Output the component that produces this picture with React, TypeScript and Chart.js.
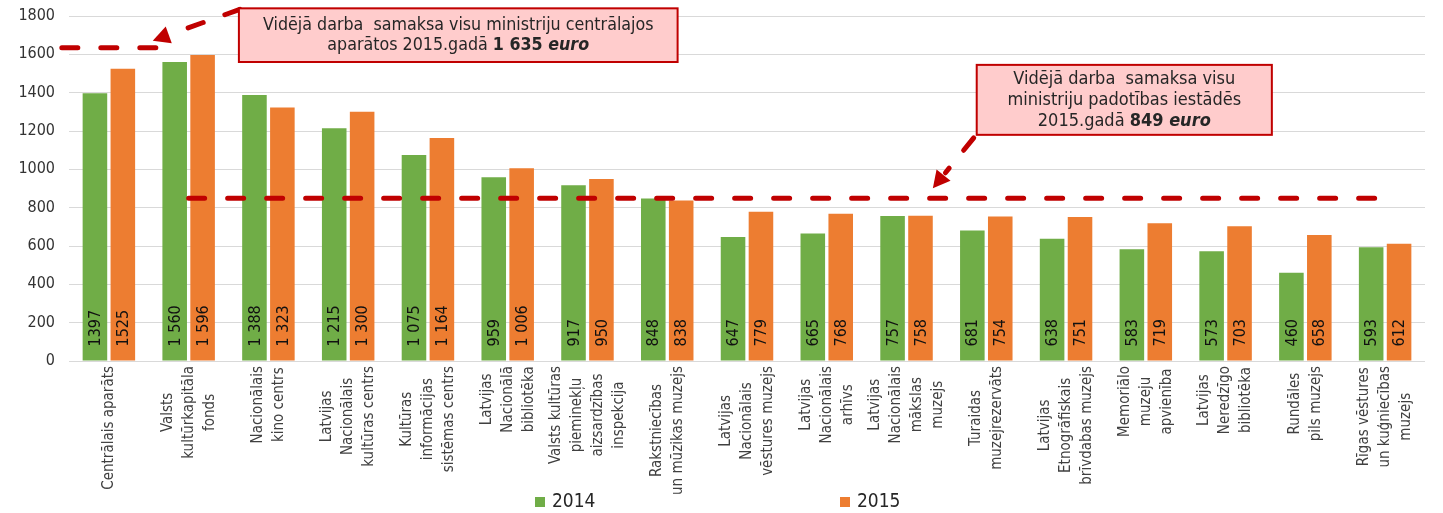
import React, { useEffect, useRef } from "react";
import { Chart, registerables } from "chart.js";

Chart.register(...registerables);

// ---------- data ----------
const categories: string[][] = [
  ["Centrālais aparāts"],
  ["Valsts", "kultūrkapitāla", "fonds"],
  ["Nacionālais", "kino centrs"],
  ["Latvijas", "Nacionālais", "kultūras centrs"],
  ["Kultūras", "informācijas", "sistēmas centrs"],
  ["Latvijas", "Nacionālā", "bibliotēka"],
  ["Valsts kultūras", "pieminekļu", "aizsardzības", "inspekcija"],
  ["Rakstniecības", "un mūzikas muzejs"],
  ["Latvijas", "Nacionālais", "vēstures muzejs"],
  ["Latvijas", "Nacionālais", "arhīvs"],
  ["Latvijas", "Nacionālais", "mākslas", "muzejs"],
  ["Turaidas", "muzejrezervāts"],
  ["Latvijas", "Etnogrāfiskais", "brīvdabas muzejs"],
  ["Memoriālo", "muzeju", "apvienība"],
  ["Latvijas", "Neredzīgo", "bibliotēka"],
  ["Rundāles", "pils muzejs"],
  ["Rīgas vēstures", "un kuģniecības", "muzejs"],
];

const seriesNames = ["2014", "2015"];
const values2014 = [1397, 1560, 1388, 1215, 1075, 959, 917, 848, 647, 665, 757, 681, 638, 583, 573, 460, 593];
const values2015 = [1525, 1596, 1323, 1300, 1164, 1006, 950, 838, 779, 768, 758, 754, 751, 719, 703, 658, 612];
const seriesColors = ["#70AD47", "#ED7D31"];

const yMin = 0;
const yMax = 1800;
const yStep = 200;

// categories whose labels are written without a thousands space
const noSpaceCategories = [0];

const avgCentral = 1635;
const avgSubordinate = 849;

const box1Lines = [
  [{ t: "Vidējā darba  samaksa visu ministriju centrālajos" }],
  [{ t: "aparātos 2015.gadā " }, { t: "1 635", b: true }, { t: " ", b: true }, { t: "euro", b: true, i: true }],
];
const box2Lines = [
  [{ t: "Vidējā darba  samaksa visu" }],
  [{ t: "ministriju padotības iestādēs" }],
  [{ t: "2015.gadā " }, { t: "849", b: true }, { t: " ", b: true }, { t: "euro", b: true, i: true }],
];

// ---------- styling ----------
const FONT = "'DejaVu Sans Condensed', 'DejaVu Sans', sans-serif";
const RED = "#C00000";
const TEXT = "#262626";

function fmt(v: number, i: number): string {
  if (noSpaceCategories.includes(i) || v < 1000) return String(v);
  return String(v).replace(/\B(?=(\d{3})+(?!\d))/g, " ");
}

function dashedLine(ctx: CanvasRenderingContext2D, x0: number, y0: number, x1: number, y1: number) {
  ctx.save();
  ctx.strokeStyle = RED;
  ctx.lineWidth = 5;
  ctx.lineCap = "round";
  ctx.setLineDash([16, 23]);
  ctx.beginPath();
  ctx.moveTo(x0, y0);
  ctx.lineTo(x1, y1);
  ctx.stroke();
  ctx.restore();
}

function arrow(ctx: CanvasRenderingContext2D, x0: number, y0: number, x1: number, y1: number) {
  const dx = x1 - x0, dy = y1 - y0;
  const L = Math.hypot(dx, dy);
  const ux = dx / L, uy = dy / L;
  const head = 17, hw = 9;
  const bx = x1 - ux * head, by = y1 - uy * head;
  dashedLine(ctx, x0, y0, bx - ux * 3, by - uy * 3);
  ctx.save();
  ctx.fillStyle = RED;
  ctx.beginPath();
  ctx.moveTo(x1, y1);
  ctx.lineTo(bx - uy * hw, by + ux * hw);
  ctx.lineTo(bx + uy * hw, by - ux * hw);
  ctx.closePath();
  ctx.fill();
  ctx.restore();
}

type Seg = { t: string; b?: boolean; i?: boolean };

function drawBox(
  ctx: CanvasRenderingContext2D,
  left: number, top: number, right: number, bottom: number,
  lines: Seg[][], lineGap: number, size: number
) {
  ctx.save();
  ctx.fillStyle = "#FFCCCC";
  ctx.fillRect(left, top, right - left, bottom - top);
  ctx.strokeStyle = RED;
  ctx.lineWidth = 2;
  ctx.strokeRect(left, top, right - left, bottom - top);
  ctx.fillStyle = TEXT;
  ctx.textBaseline = "middle";
  ctx.textAlign = "left";
  const cx = (left + right) / 2;
  const cy = (top + bottom) / 2;
  const n = lines.length;
  lines.forEach((segs, li) => {
    const y = cy + (li - (n - 1) / 2) * lineGap;
    const fontOf = (s: Seg) => `${s.i ? "italic " : ""}${s.b ? "bold " : ""}${size}px ${FONT}`;
    let w = 0;
    segs.forEach((s) => { ctx.font = fontOf(s); w += ctx.measureText(s.t).width; });
    let x = cx - w / 2;
    segs.forEach((s) => {
      ctx.font = fontOf(s);
      ctx.fillText(s.t, x, y);
      x += ctx.measureText(s.t).width;
    });
  });
  ctx.restore();
}

const overlayPlugin = {
  id: "overlay",
  afterDatasetsDraw(chart: any) {
    const ctx: CanvasRenderingContext2D = chart.ctx;
    const xs = chart.scales.x;
    const ys = chart.scales.y;

    // value labels inside bars
    ctx.save();
    ctx.font = `16px ${FONT}`;
    ctx.fillStyle = "#111111";
    ctx.textAlign = "left";
    ctx.textBaseline = "middle";
    chart.data.datasets.forEach((ds: any, di: number) => {
      const meta = chart.getDatasetMeta(di);
      meta.data.forEach((el: any, i: number) => {
        ctx.save();
        ctx.translate(el.x + 1, el.base - 14);
        ctx.rotate(-Math.PI / 2);
        ctx.fillText(fmt(ds.data[i], i), 0, 0);
        ctx.restore();
      });
    });
    ctx.restore();

    // average lines
    const yc = ys.getPixelForValue(avgCentral);
    dashedLine(ctx, xs.getPixelForValue(-0.59), yc, xs.getPixelForValue(0.6), yc);
    const yp = ys.getPixelForValue(avgSubordinate);
    dashedLine(ctx, xs.getPixelForValue(1), yp, xs.getPixelForValue(categories.length - 1), yp);

    // callout boxes
    const b1 = {
      l: xs.getPixelForValue(1.63), r: xs.getPixelForValue(7.13),
      t: ys.getPixelForValue(1840), b: ys.getPixelForValue(1560),
    };
    const b2 = {
      l: xs.getPixelForValue(10.88), r: xs.getPixelForValue(14.58),
      t: ys.getPixelForValue(1545), b: ys.getPixelForValue(1180),
    };
    arrow(ctx, b1.l + 1, b1.t + 1, xs.getPixelForValue(0.55), yc - 7);
    arrow(ctx, b2.l - 3, b2.b + 3, xs.getPixelForValue(10.33), yp - 10);
    drawBox(ctx, b1.l, b1.t, b1.r, b1.b, box1Lines, 20, 17.7);
    drawBox(ctx, b2.l, b2.t, b2.r, b2.b, box2Lines, 21, 18);
  },
  afterDraw(chart: any) {
    const ctx: CanvasRenderingContext2D = chart.ctx;
    const xs = chart.scales.x;
    const area = chart.chartArea;

    // category labels, rotated, lines centred on each other
    ctx.save();
    ctx.font = `15px ${FONT}`;
    ctx.fillStyle = "#404040";
    ctx.textAlign = "center";
    ctx.textBaseline = "middle";
    const top = area.bottom + 5;
    categories.forEach((lines, i) => {
      const cx = xs.getPixelForValue(i);
      const maxW = Math.max(...lines.map((l) => ctx.measureText(l).width));
      const cy = top + maxW / 2;
      lines.forEach((l, j) => {
        const x = cx + (j - (lines.length - 1) / 2) * 21;
        ctx.save();
        ctx.translate(x, cy);
        ctx.rotate(-Math.PI / 2);
        ctx.fillText(l, 0, 0);
        ctx.restore();
      });
    });
    ctx.restore();

    // legend
    ctx.save();
    ctx.font = `19px ${FONT}`;
    ctx.textBaseline = "middle";
    ctx.textAlign = "left";
    const mid = chart.width / 2;
    const starts = [mid - 186.5, mid + 118.5];
    const ly = 502;
    chart.data.datasets.forEach((ds: any, di: number) => {
      const x = starts[di];
      ctx.fillStyle = ds.backgroundColor;
      ctx.fillRect(x, ly - 5, 10, 10);
      ctx.fillStyle = TEXT;
      ctx.fillText(ds.label, x + 17, ly);
    });
    ctx.restore();
  },
};

export default function App() {
  const ref = useRef<HTMLCanvasElement | null>(null);

  useEffect(() => {
    document.body.style.margin = "0";
    const canvas = ref.current;
    if (!canvas) return;
    const chart = new Chart(canvas, {
      type: "bar",
      data: {
        labels: categories.map((c) => c.join(" ")),
        datasets: [
          { label: seriesNames[0], data: values2014, backgroundColor: seriesColors[0], categoryPercentage: 0.7, barPercentage: 0.88 },
          { label: seriesNames[1], data: values2015, backgroundColor: seriesColors[1], categoryPercentage: 0.7, barPercentage: 0.88 },
        ],
      },
      options: {
        responsive: false,
        animation: false,
        devicePixelRatio: 1,
        layout: { padding: { left: 0, right: 18, top: 16, bottom: 152 } },
        plugins: {
          legend: { display: false },
          tooltip: { enabled: false },
        },
        scales: {
          x: { display: false, offset: true },
          y: {
            min: yMin,
            max: yMax,
            ticks: {
              stepSize: yStep,
              padding: 14,
              color: "#333333",
              font: { family: FONT, size: 16 },
              callback: (v: any) => String(v),
            },
            grid: { color: "#D9D9D9", drawTicks: false },
            border: { display: false },
            afterFit: (s: any) => {
              s.width = 69;
              s.paddingTop = 0;
              s.paddingBottom = 0;
            },
          },
        },
      },
      plugins: [overlayPlugin],
    });
    return () => chart.destroy();
  }, []);

  return (
    <div style={{ width: 1443, height: 513 }}>
      <canvas ref={ref} width={1443} height={513} style={{ display: "block" }} />
    </div>
  );
}
